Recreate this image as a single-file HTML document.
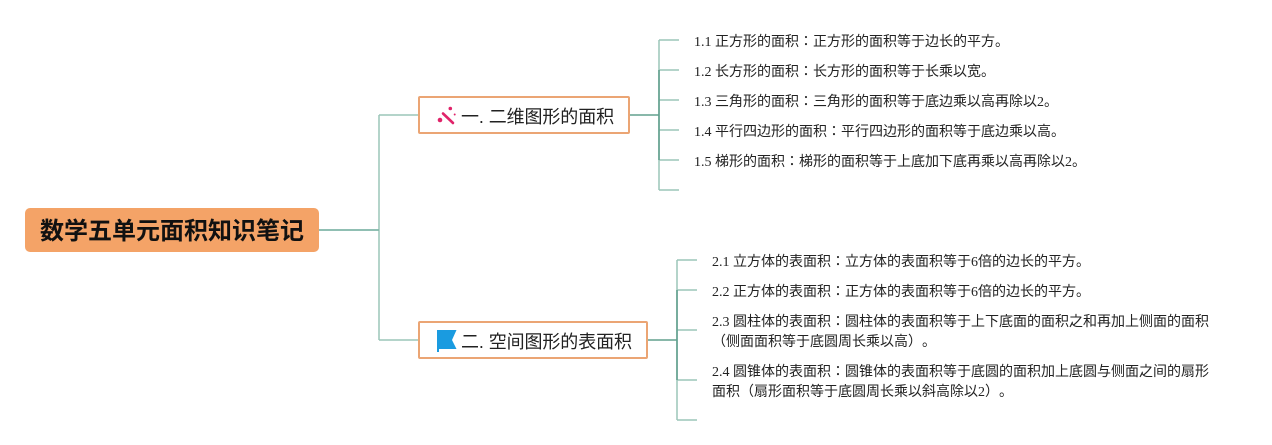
<!DOCTYPE html>
<html lang="ja"><head><meta charset="utf-8">
<style>
html,body{margin:0;padding:0;background:#fff}
#c{position:relative;width:1272px;height:445px;overflow:hidden;background:#fff;font-family:"Liberation Serif","Noto Sans CJK JP",serif;color:#222;text-spacing-trim:space-all}
svg{position:absolute;left:0;top:0}
.t{position:absolute;font-size:14px;line-height:20px;white-space:nowrap}
.h{position:absolute;font-family:"Liberation Sans","Noto Sans CJK JP",sans-serif;font-size:18px;line-height:24px;white-space:nowrap;color:#222;letter-spacing:-.1px}
.box{position:absolute;box-sizing:border-box;border:2px solid #eba574;border-radius:2px;background:#fff}
.root{position:absolute;left:25px;top:208px;width:294px;height:44px;background:#f4a367;border-radius:5px;font-family:"Liberation Sans","Noto Sans CJK JP",sans-serif;font-weight:bold;font-size:24px;line-height:47px;text-align:center;color:#111;white-space:nowrap}
</style></head><body><div id="c">
<svg width="1272" height="445" fill="none">
<g stroke="#9cc5b9" stroke-width="1.5">
<path d="M319 230H379M379 115V340M379 115H419M379 340H419"/>
<path d="M659 40V190M659 40H679M659 70H679M659 100H679M659 130H679M659 160H679M659 190H679"/>
<path d="M677 260V420M677 260H697M677 290H697M677 330H697M677 380H697M677 420H697"/>
</g>
<path d="M630 115H659M659 70V160" stroke="#62a08e" stroke-width="1.6"/>
<path d="M648 340H677M677 290V380" stroke="#62a08e" stroke-width="1.6"/>
<path d="M319 230H379" stroke="#7db3a5" stroke-width="1.5"/>
</svg>
<div class="root">数学五单元面积知识笔记</div>
<div class="box" style="left:418px;top:96px;width:212px;height:38px"></div>
<div class="box" style="left:418px;top:321px;width:230px;height:38px"></div>
<svg width="1272" height="445">
<path d="M443 113.500L453 123" stroke="#e0246a" stroke-width="2.600" stroke-linecap="round"/>
<g fill="#e0246a">
<circle cx="440" cy="120" r="2.300"/><circle cx="450.300" cy="108.500" r="1.800"/><circle cx="454.700" cy="114.500" r="1"/><circle cx="446" cy="117" r=".6"/>
</g>
<path d="M437 330H456.500L452 340L456.500 349H439V352H437Z" fill="#1a9be0"/>
</svg>
<div class="h" style="left:461px;top:105px">一. 二维图形的面积</div>
<div class="h" style="left:461px;top:330px">二. 空间图形的表面积</div>
<div class="t" style="left:694px;top:33px">1.1 正方形的面积：正方形的面积等于边长的平方。</div>
<div class="t" style="left:694px;top:63px">1.2 长方形的面积：长方形的面积等于长乘以宽。</div>
<div class="t" style="left:694px;top:93px">1.3 三角形的面积：三角形的面积等于底边乘以高再除以2。</div>
<div class="t" style="left:694px;top:123px">1.4 平行四边形的面积：平行四边形的面积等于底边乘以高。</div>
<div class="t" style="left:694px;top:153px">1.5 梯形的面积：梯形的面积等于上底加下底再乘以高再除以2。</div>
<div class="t" style="left:712px;top:253px">2.1 立方体的表面积：立方体的表面积等于6倍的边长的平方。</div>
<div class="t" style="left:712px;top:283px">2.2 正方体的表面积：正方体的表面积等于6倍的边长的平方。</div>
<div class="t" style="left:712px;top:313px">2.3 圆柱体的表面积：圆柱体的表面积等于上下底面的面积之和再加上侧面的面积<br>（侧面面积等于底圆周长乘以高）。</div>
<div class="t" style="left:712px;top:363px">2.4 圆锥体的表面积：圆锥体的表面积等于底圆的面积加上底圆与侧面之间的扇形<br>面积（扇形面积等于底圆周长乘以斜高除以2）。</div>
</div></body></html>
